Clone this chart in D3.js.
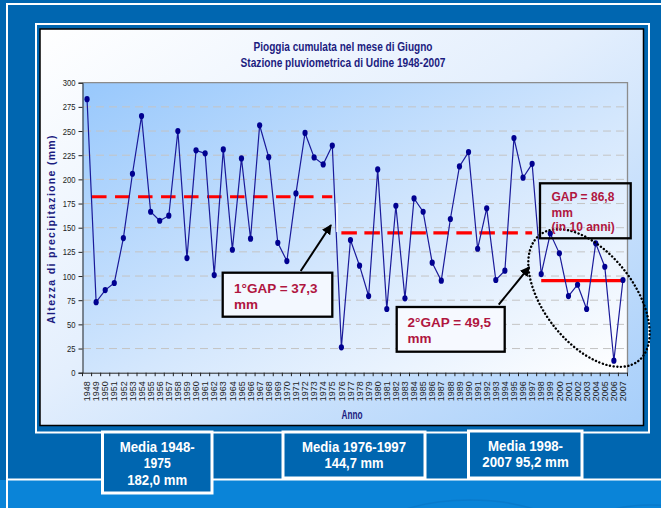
<!DOCTYPE html>
<html><head><meta charset="utf-8">
<script src="https://cdn.jsdelivr.net/npm/d3@7"></script>
<style>body{margin:0;background:#0066b0;overflow:hidden} svg{display:block}</style>
</head><body>
<script>
// ---- data ----
const years = ["1948","1949","1950","1951","1952","1953","1954","1955","1956","1957",
  "1958","1959","1960","1961","1962","1963","1964","1965","1966","1967",
  "1968","1969","1970","1971","1972","1973","1974","1975","1976","1977",
  "1978","1979","1980","1981","1982","1983","1984","1985","1986","1987",
  "1988","1989","1990","1991","1992","1993","1994","1995","1996","1997",
  "1998","1999","2000","2001","2002","2003","2004","2005","2006","2007"];
const rainfall = [283,73,85.5,92.8,139.3,205.8,265.5,166.5,157.2,162.4,
  250,118.6,230,226.9,101,231,127.2,221.7,138.6,256,
  223,134.4,115.5,185.5,248,222.7,215.5,235,26.2,137.2,
  110.7,79.3,210.3,65.9,172.7,76.9,180.3,166.5,113.8,95.2,
  159,213.4,228.2,128.2,170,95.9,105.5,242.7,201.7,216.1,
  102,144,123.5,79.3,91,65.9,133.8,109.6,12.4,95.9];
const yTicks = [0,25,50,75,100,125,150,175,200,225,250,275,300];
const meanStart = ["1948","1976","1998"];
const meanEnd = ["1975","1997","2007"];
const meanValues = [182.0,144.7,95.2];
const titleLines = ["Pioggia cumulata nel mese di Giugno","Stazione pluviometrica di Udine 1948-2007"];
const yTitle = "Altezza di precipitazione (mm)";
const xTitle = "Anno";
const gapNotes = [["1°GAP = 37,3","mm"],["2°GAP = 49,5","mm"],["GAP = 86,8","mm","(in 10 anni)"]];
const mediaNotes = [["Media 1948-","1975","182,0 mm"],["Media 1976-1997","144,7 mm"],["Media 1998-","2007 95,2 mm"]];

// ---- drawing ----
const W = 661, H = 508;
const arial = "'Liberation Sans',Arial,sans-serif";
const svg = d3.select("body").append("svg").attr("width", W).attr("height", H);
const defs = svg.append("defs");

const g1 = defs.append("linearGradient").attr("id","chartBg").attr("x1","0").attr("y1","0").attr("x2","1").attr("y2","1");
g1.append("stop").attr("offset","0").attr("stop-color","#ffffff");
g1.append("stop").attr("offset","0.45").attr("stop-color","#e4effd");
g1.append("stop").attr("offset","1").attr("stop-color","#a6cefa");
const g2 = defs.append("linearGradient").attr("id","plotBg").attr("x1","0").attr("y1","0").attr("x2","1").attr("y2","1");
g2.append("stop").attr("offset","0").attr("stop-color","#98c8fc");
g2.append("stop").attr("offset","0.55").attr("stop-color","#d4e7fd");
g2.append("stop").attr("offset","1").attr("stop-color","#ffffff");
defs.append("marker").attr("id","arrow").attr("viewBox","0 0 10 10").attr("refX","9").attr("refY","5")
  .attr("markerWidth","5").attr("markerHeight","5").attr("orient","auto")
  .append("path").attr("d","M0,0L10,5L0,10Z").attr("fill","#000");

// background
svg.append("rect").attr("width",W).attr("height",H).attr("fill","#0066b0");
svg.append("rect").attr("x",0).attr("y",480).attr("width",W).attr("height",H-480).attr("fill","#0a84d8");
const sw = svg.append("g").attr("fill","none").attr("stroke","#0874c4").attr("stroke-width",1.5).attr("opacity",0.6);
[[470,560,120,60],[470,560,95,48],[470,560,70,36],[650,535,70,30],[650,535,50,22]].forEach(e=>{
  sw.append("ellipse").attr("cx",e[0]).attr("cy",e[1]).attr("rx",e[2]).attr("ry",e[3]);
});
// frames
svg.append("path").attr("d","M7,"+(H+5)+"V4H"+(W+5)).attr("fill","none").attr("stroke","#fff").attr("stroke-width",2);
svg.append("line").attr("x1",7).attr("x2",W).attr("y1",479.5).attr("y2",479.5).attr("stroke","#fff").attr("stroke-width",2);
svg.append("rect").attr("x",36).attr("y",24).attr("width",613).attr("height",408.5).attr("fill","none").attr("stroke","#fff").attr("stroke-width",2);
svg.append("rect").attr("x",40).attr("y",29).attr("width",603.5).attr("height",396.5).attr("fill","url(#chartBg)").attr("stroke","#000").attr("stroke-width",1.5);

// scales
const x = d3.scaleBand().domain(years).range([82.5,627.5]).padding(0);
const y = d3.scaleLinear().domain([0,300]).range([372.7,82.7]);
const cx = d => x(d) + x.bandwidth()/2;

// plot area
svg.append("rect").attr("x",82.5).attr("y",y(300)).attr("width",545).attr("height",y(0)-y(300)).attr("fill","url(#plotBg)");
svg.append("g").selectAll("line").data(yTicks.filter(t=>t>0&&t<300)).join("line")
  .attr("x1",83).attr("x2",627).attr("y1",d=>y(d)).attr("y2",d=>y(d))
  .attr("stroke","#c4c4c4").attr("stroke-width",1).attr("stroke-dasharray","8,5");
svg.append("path").attr("d",`M82.5,${y(300)}H627.5V${y(0)}`).attr("fill","none").attr("stroke","#8c8c8c").attr("stroke-width",1.3);

// axes
const yAxis = svg.append("g").attr("transform","translate(82.5,0)")
  .call(d3.axisLeft(y).tickValues(yTicks).tickSize(4).tickPadding(3));
yAxis.select(".domain").attr("stroke","#222");
yAxis.selectAll(".tick line").attr("stroke","#222");
yAxis.selectAll("text").attr("font-family",arial).attr("font-size",9.5).attr("fill","#222")
  .attr("textLength",d=>String(d).length*4.25).attr("lengthAdjust","spacingAndGlyphs");

const xAxis = svg.append("g").attr("transform",`translate(0,${y(0)})`)
  .call(d3.axisBottom(x).tickSize(0).tickPadding(0));
xAxis.select(".domain").attr("stroke","#222");
xAxis.selectAll(".tick line").remove();
xAxis.selectAll("text").attr("font-family",arial).attr("font-size",9).attr("fill","#222")
  .attr("text-anchor","end").attr("dy",null).attr("y",0)
  .attr("transform","translate(3.2,8.5) rotate(-90)");
svg.append("g").selectAll("line").data(years.concat(["end"])).join("line")
  .attr("x1",(d,i)=>x.range()[0]+i*x.bandwidth()).attr("x2",(d,i)=>x.range()[0]+i*x.bandwidth())
  .attr("y1",y(0)).attr("y2",y(0)+3.5).attr("stroke","#222").attr("stroke-width",1);

// titles
const titleW = [179,205];
svg.append("g").selectAll("text").data(titleLines).join("text")
  .attr("x",343).attr("y",(d,i)=>50.5+i*16.5).attr("text-anchor","middle")
  .attr("textLength",(d,i)=>titleW[i]).attr("lengthAdjust","spacingAndGlyphs")
  .attr("font-family",arial).attr("font-weight","bold").attr("font-size",12.5).attr("fill","#1c1c80").text(d=>d);
svg.append("text").attr("transform","translate(55,229) rotate(-90)").attr("text-anchor","middle")
  .attr("font-family",arial).attr("font-weight","bold").attr("font-size",10.5).attr("letter-spacing","1.3px")
  .attr("fill","#1c1c80").text(yTitle);
svg.append("text").attr("x",352).attr("y",418.5).attr("text-anchor","middle")
  .attr("textLength",21).attr("lengthAdjust","spacingAndGlyphs")
  .attr("font-family",arial).attr("font-weight","bold").attr("font-size",12).attr("fill","#1c1c80").text(xTitle);

// mean lines
const dashes = ["14.5,8.5","15.5,7.5",null];
const offs = [18,0,0];
meanValues.forEach((v,i)=>{
  const l = svg.append("line").attr("x1",cx(meanStart[i])).attr("x2",cx(meanEnd[i]))
    .attr("y1",y(v)).attr("y2",y(v)).attr("stroke","#ff0000").attr("stroke-width",3.2);
  if (dashes[i]) l.attr("stroke-dasharray",dashes[i]).attr("stroke-dashoffset",offs[i]);
});

// series
const line = d3.line().x((d,i)=>cx(years[i])).y(d=>y(d));
svg.append("path").datum(rainfall).attr("d",line).attr("fill","none").attr("stroke","#1a1a9a").attr("stroke-width",1.2);
svg.append("g").selectAll("ellipse").data(rainfall).join("ellipse")
  .attr("cx",(d,i)=>cx(years[i])).attr("cy",d=>y(d)).attr("rx",2.6).attr("ry",3.1).attr("fill","#000090");

svg.append("line").attr("x1",337).attr("x2",337).attr("y1",203).attr("y2",232).attr("stroke","#fff").attr("stroke-width",1.5);

// annotation boxes
const boxes = [
  {x:222.7,y:272.7,w:109.6,h:44,fill:"#f3f8ff",tx:234,ty:[293,309],fs:13.5},
  {x:396.7,y:307,w:108,h:44.7,fill:"#f6f9ff",tx:407.5,ty:[327,342.5],fs:13.5},
  {x:540,y:183.3,w:90.7,h:55,fill:"none",tx:551.5,ty:[201,216.5,231],fs:12}
];
boxes.forEach(b=>{
  svg.append("rect").attr("x",b.x).attr("y",b.y).attr("width",b.w).attr("height",b.h)
    .attr("fill",b.fill).attr("stroke","#000").attr("stroke-width",2.3);
});
svg.append("line").attr("x1",300.7).attr("y1",271).attr("x2",331).attr("y2",225)
  .attr("stroke","#000").attr("stroke-width",2).attr("marker-end","url(#arrow)");
svg.append("line").attr("x1",498.7).attr("y1",304.7).attr("x2",529.3).attr("y2",267)
  .attr("stroke","#000").attr("stroke-width",2).attr("marker-end","url(#arrow)");
svg.append("ellipse").attr("cx",0).attr("cy",0).attr("rx",80).attr("ry",45)
  .attr("transform","translate(589,298) rotate(52)")
  .attr("fill","none").attr("stroke","#000").attr("stroke-width",2.4)
  .attr("stroke-dasharray","0.1,3.6").attr("stroke-linecap","round");
boxes.forEach((b,i)=>{
  svg.append("g").selectAll("text").data(gapNotes[i]).join("text")
    .attr("x",b.tx).attr("y",(d,j)=>b.ty[j]).attr("font-family",arial).attr("font-weight","bold")
    .attr("font-size",b.fs).attr("fill","#b0163f").text(d=>d);
});

// media boxes
const mboxes = [
  {x:102.5,y:432,w:109.5,h:61,cx:157.2,ty:[452,468,484.5],tw:[75,27,60]},
  {x:283,y:432,w:142,h:46,cx:354,ty:[452,468],tw:[104,59]},
  {x:468.5,y:431,w:113.5,h:47,cx:525.5,ty:[451,467],tw:[75,86.5]}
];
mboxes.forEach((b,i)=>{
  svg.append("rect").attr("x",b.x).attr("y",b.y).attr("width",b.w).attr("height",b.h)
    .attr("fill","#0066b0").attr("stroke","#fff").attr("stroke-width",3);
  svg.append("g").selectAll("text").data(mediaNotes[i]).join("text")
    .attr("x",b.cx).attr("y",(d,j)=>b.ty[j]).attr("text-anchor","middle")
    .attr("textLength",(d,j)=>b.tw[j]).attr("lengthAdjust","spacingAndGlyphs")
    .attr("font-family",arial).attr("font-weight","bold").attr("font-size",14).attr("fill","#fff").text(d=>d);
});
</script>
</body></html>
